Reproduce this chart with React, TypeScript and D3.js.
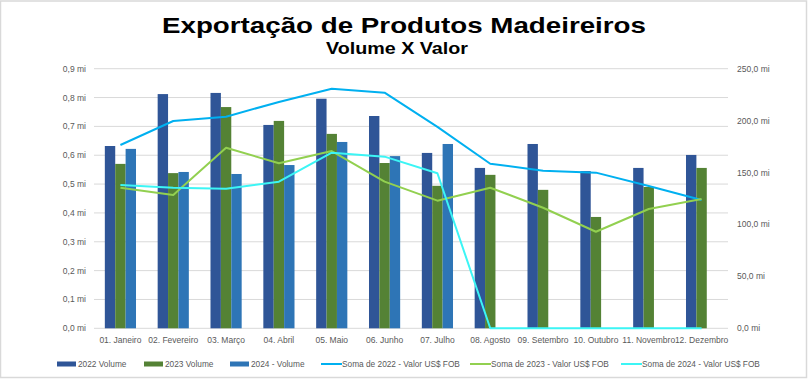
import React from "react";
import * as d3 from "d3";

const months = ["01. Janeiro", "02. Fevereiro", "03. Março", "04. Abril", "05. Maio", "06. Junho", "07. Julho", "08. Agosto", "09. Setembro", "10. Outubro", "11. Novembro", "12. Dezembro"];
const vol2022 = [0.632, 0.812, 0.816, 0.705, 0.796, 0.736, 0.608, 0.556, 0.639, 0.545, 0.556, 0.601];
const vol2023 = [0.570, 0.538, 0.767, 0.719, 0.674, 0.573, 0.494, 0.532, 0.480, 0.386, 0.490, 0.556];
const vol2024: (number | null)[] = [0.622, 0.542, 0.535, 0.566, 0.646, 0.597, 0.639, null, null, null, null, null];
const val2022 = [176.5, 199.6, 203.8, 218, 230.7, 226.9, 194, 158.5, 151.8, 149.9, 137, 123.6];
const val2023 = [135.4, 128.4, 173.9, 158.9, 170.7, 141.2, 122.9, 135.4, 116.1, 93, 114.9, 124.5];
const val2024 = [138, 135.4, 134.4, 141.2, 169.1, 165.3, 149.3, 0, 0, 0, 0, 0];
const leftTicks = [0, 0.1, 0.2, 0.3, 0.4, 0.5, 0.6, 0.7, 0.8, 0.9];
const rightTicks = [0, 50, 100, 150, 200, 250];

const barSeries = [
  { name: "2022 Volume", values: vol2022, color: "#2F5597" },
  { name: "2023 Volume", values: vol2023, color: "#548235" },
  { name: "2024 - Volume", values: vol2024, color: "#2E75B6" },
];
const lineSeries = [
  { name: "Soma de 2022 - Valor US$ FOB", values: val2022, color: "#00B0F0" },
  { name: "Soma de 2023 - Valor US$ FOB", values: val2023, color: "#92D050" },
  { name: "Soma de 2024 - Valor US$ FOB", values: val2024, color: "#3CF5F5" },
];

const W = 809, H = 379;
const plot = { left: 94, right: 728, top: 68.7, bottom: 328.3 };
const font = "'Liberation Sans', Arial, sans-serif";

export default function App() {
  const x = d3.scaleBand<string>().domain(months).range([plot.left, plot.right]).paddingInner(0.41).paddingOuter(0.205);
  const xs = d3.scaleBand<number>().domain([0, 1, 2]).range([0, x.bandwidth()]);
  const yL = d3.scaleLinear().domain([0, 0.9]).range([plot.bottom, plot.top]);
  const yR = d3.scaleLinear().domain([0, 250]).range([plot.bottom, plot.top]);
  const cx = (m: string) => (x(m) as number) + x.bandwidth() / 2;
  const fmtL = (v: number) => v.toFixed(1).replace(".", ",") + " mi";
  const fmtR = (v: number) => v.toFixed(1).replace(".", ",") + " mi";

  const legendItems = [
    { x: 57, kind: "rect", ...barSeries[0] },
    { x: 144, kind: "rect", ...barSeries[1] },
    { x: 230, kind: "rect", ...barSeries[2] },
    { x: 321, kind: "line", ...lineSeries[0] },
    { x: 470, kind: "line", ...lineSeries[1] },
    { x: 621, kind: "line", ...lineSeries[2] },
  ];

  return (
    <svg width={W} height={H} style={{ position: "absolute", left: 0, top: 0, background: "#fff" }} fontFamily={font}>
      <rect x={0.5} y={1} width={806} height={376.5} fill="#fff" stroke="#D9D9D9" strokeWidth={1.5} />
      <text x={162} y={33.3} fontSize={22.5} fontWeight="bold" fill="#000" textLength={484} lengthAdjust="spacingAndGlyphs">Exportação de Produtos Madeireiros</text>
      <text x={326} y={54.3} fontSize={17} fontWeight="bold" fill="#000" textLength={142} lengthAdjust="spacingAndGlyphs">Volume X Valor</text>
      {leftTicks.map((t) => (
        <g key={"g" + t}>
          <line x1={plot.left} x2={plot.right} y1={yL(t)} y2={yL(t)} stroke="#D9D9D9" strokeWidth={1} />
          <text x={86} y={yL(t) + 3} textAnchor="end" fontSize={8.5} fill="#595959">{fmtL(t)}</text>
        </g>
      ))}
      {rightTicks.map((t) => (
        <text key={"r" + t} x={737} y={yR(t) + 3} fontSize={8.5} fill="#595959">{fmtR(t)}</text>
      ))}
      {barSeries.map((s, si) =>
        s.values.map((v, i) =>
          v == null ? null : (
            <rect key={s.name + i} x={(x(months[i]) as number) + (xs(si) as number)} y={yL(v)} width={xs.bandwidth()} height={plot.bottom - yL(v)} fill={s.color} />
          )
        )
      )}
      {lineSeries.map((s) => {
        const line = d3.line<number>().x((_, i) => cx(months[i])).y((v) => yR(v));
        return <path key={s.name} d={line(s.values) || ""} fill="none" stroke={s.color} strokeWidth={2} strokeLinejoin="round" />;
      })}
      {months.map((m) => (
        <text key={m} x={cx(m)} y={343} textAnchor="middle" fontSize={8.5} fill="#595959">{m}</text>
      ))}
      {legendItems.map((it) => (
        <g key={it.name}>
          {it.kind === "rect" ? (
            <rect x={it.x} y={361.5} width={19} height={5} fill={it.color} />
          ) : (
            <line x1={it.x} x2={it.x + 21} y1={364} y2={364} stroke={it.color} strokeWidth={2} />
          )}
          <text x={it.x + 21} y={367} fontSize={8.3} fill="#595959">{it.name}</text>
        </g>
      ))}
    </svg>
  );
}
